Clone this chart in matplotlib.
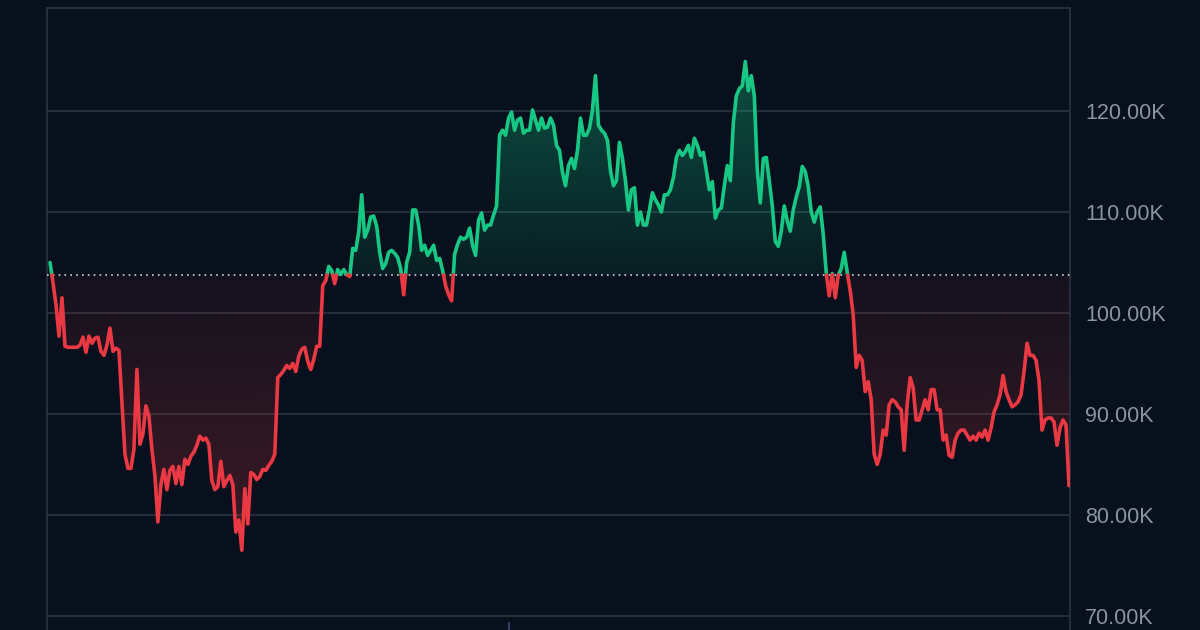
import numpy as np
import matplotlib
matplotlib.use('Agg')
import matplotlib.pyplot as plt
from matplotlib.patches import Polygon

plt.rcParams['font.family'] = ['Liberation Sans', 'DejaVu Sans']

# daily price, thousands USD
price = [
    105.0, 103.0, 100.8, 97.7, 101.5, 96.7, 96.6, 96.6, 96.6, 96.6, 96.8, 97.6, 96.1, 97.7, 97.0, 97.5,
    97.6, 96.2, 95.8, 96.8, 98.5, 96.2, 96.5, 96.3, 91.2, 86.0, 84.6, 84.6, 86.5, 94.4, 87.0, 88.0,
    90.8, 89.8, 86.5, 83.9, 79.3, 83.0, 84.5, 82.5, 84.4, 84.8, 83.1, 84.8, 83.0, 85.5, 85.0, 85.8,
    86.2, 86.9, 87.8, 87.4, 87.6, 87.0, 83.4, 82.5, 82.8, 85.3, 82.8, 83.4, 83.9, 83.0, 78.3, 79.5,
    76.5, 82.6, 79.1, 84.2, 84.0, 83.5, 83.8, 84.5, 84.4, 84.9, 85.3, 86.0, 93.6, 93.9, 94.3, 94.8,
    94.5, 95.0, 94.2, 95.7, 96.4, 96.6, 95.2, 94.4, 95.4, 96.7, 96.7, 102.7, 103.2, 104.6, 104.2, 102.9,
    104.3, 103.8, 104.3, 103.8, 103.6, 106.4, 106.2, 108.0, 111.7, 107.5, 108.2, 109.5, 109.6, 108.6, 106.0, 104.4,
    104.9, 106.0, 106.2, 105.9, 105.5, 104.4, 101.8, 105.0, 106.0, 110.2, 110.2, 108.7, 106.2, 106.7, 105.7, 106.2,
    106.7, 105.2, 105.4, 104.2, 102.7, 101.8, 101.2, 105.8, 106.8, 107.5, 107.3, 107.5, 108.4, 106.7, 105.7, 109.2,
    109.9, 108.2, 108.7, 108.7, 109.7, 110.6, 117.6, 118.1, 117.6, 119.3, 119.9, 118.1, 119.1, 119.3, 117.8, 118.1,
    118.1, 120.1, 119.1, 118.1, 119.3, 118.3, 118.4, 119.3, 118.6, 116.6, 116.1, 113.9, 112.6, 114.6, 115.3, 114.3,
    116.1, 119.3, 117.6, 117.6, 118.3, 120.1, 123.5, 118.6, 118.1, 117.8, 117.1, 114.1, 112.6, 113.1, 116.9, 115.3,
    113.1, 110.2, 112.2, 112.4, 108.7, 110.0, 108.7, 108.7, 110.2, 111.9, 111.2, 110.7, 110.0, 111.7, 111.7, 112.2,
    113.4, 115.4, 116.1, 115.6, 116.0, 116.6, 115.4, 117.3, 116.6, 115.6, 115.9, 114.1, 112.2, 113.0, 109.4, 110.2,
    110.4, 112.6, 114.6, 113.1, 118.8, 121.5, 122.2, 122.5, 124.9, 122.0, 123.5, 121.5, 114.1, 110.9, 115.3, 115.4,
    113.1, 110.6, 107.1, 106.6, 108.1, 110.6, 109.1, 108.1, 110.2, 111.5, 112.5, 114.5, 114.0, 112.5, 110.0, 109.0,
    110.0, 110.5, 107.8, 103.9, 101.7, 103.9, 101.5, 103.7, 104.4, 106.0, 104.0, 102.2, 99.8, 94.6, 95.8, 95.3,
    92.2, 93.2, 91.4, 86.0, 85.0, 86.0, 88.4, 87.9, 90.9, 91.4, 91.2, 90.7, 90.4, 86.4, 90.9, 93.6,
    92.6, 89.4, 89.4, 90.4, 91.4, 90.4, 92.4, 92.4, 90.4, 90.4, 87.4, 87.9, 85.9, 85.7, 87.4, 88.1,
    88.4, 88.4, 87.9, 87.4, 87.8, 87.4, 88.1, 87.7, 88.4, 87.4, 88.6, 90.2, 90.9, 91.9, 93.8, 92.2,
    91.4, 90.7, 90.9, 91.2, 91.9, 94.2, 97.0, 95.8, 95.8, 95.3, 93.3, 88.4, 89.4, 89.6, 89.6, 89.2,
    86.9, 88.6, 89.4, 88.9, 82.9,
]
baseline = 103.76
y_ticks = [70, 80, 90, 100, 110, 120]

BG = '#07101c'
GREEN = '#17c784'
RED = '#ea3943'

y = np.array(price)
x = np.arange(len(y), dtype=float)

# insert crossing points so the two colours meet on the baseline
xs, ys = [x[0]], [y[0]]
for i in range(1, len(y)):
    a, b = y[i - 1] - baseline, y[i] - baseline
    if a * b < 0:
        t = a / (a - b)
        xs.append(x[i - 1] + t)
        ys.append(baseline)
    xs.append(x[i])
    ys.append(y[i])
xs, ys = np.array(xs), np.array(ys)

fig = plt.figure(figsize=(12, 6.3), dpi=100, facecolor=BG)
ax = fig.add_axes([47 / 1200, 0, (1070 - 47) / 1200, 622 / 630])
ax.set_facecolor(BG)
ylo, yhi = 68.6, 130.2
xlo = -3 / 2.99
xhi = x[-1] + 1 / 2.99
ax.set_xlim(xlo, xhi)
ax.set_ylim(ylo, yhi)

for v in y_ticks:
    ax.axhline(v, color='#2a3340', lw=1.2, zorder=1)

# gradient fills
def grad_fill(mask_fn, color, top, bot, a_top, a_bot):
    ymask = mask_fn(ys)
    poly = np.column_stack([np.r_[xs[0], xs, xs[-1]], np.r_[baseline, ymask, baseline]])
    patch = Polygon(poly, closed=True, facecolor='none', edgecolor='none')
    ax.add_patch(patch)
    n = 256
    alphas = np.linspace(a_top, a_bot, n)[:, None]
    rgba = np.zeros((n, 1, 4))
    rgba[..., :3] = matplotlib.colors.to_rgb(color)
    rgba[..., 3] = alphas
    im = ax.imshow(rgba, extent=[xlo, xhi, bot, top], aspect='auto', origin='upper', zorder=2)
    im.set_clip_path(patch)

grad_fill(lambda v: np.maximum(v, baseline), GREEN, 125, baseline, 0.35, 0.08)
grad_fill(lambda v: np.minimum(v, baseline), RED, baseline, 76, 0.06, 0.25)

up = np.where(ys >= baseline, ys, np.nan)
dn = np.where(ys <= baseline, ys, np.nan)
ax.plot(xs, up, color=GREEN, lw=2.6, zorder=4, solid_capstyle='round')
ax.plot(xs, dn, color=RED, lw=2.6, zorder=4, solid_capstyle='round')

ax.axhline(baseline, color='#d0d4da', lw=1.2, ls=(0, (1, 2.5)), zorder=3)

# small time-scale tick at the bottom
ax.plot([153, 153], [ylo, ylo + 0.7], color='#34406a', lw=1.5, zorder=3, clip_on=False)

for s in ['left', 'right', 'top']:
    ax.spines[s].set_color('#2a3340')
    ax.spines[s].set_linewidth(1.2)
ax.spines['bottom'].set_visible(False)
ax.set_xticks([])
ax.yaxis.tick_right()
ax.set_yticks(y_ticks)
ax.set_yticklabels([f'{v:.2f}K' for v in y_ticks])
ax.tick_params(axis='y', length=0, pad=11, labelsize=15.5, labelcolor='#8a93a0')

fig.savefig('out.png', dpi=100, facecolor=BG)
